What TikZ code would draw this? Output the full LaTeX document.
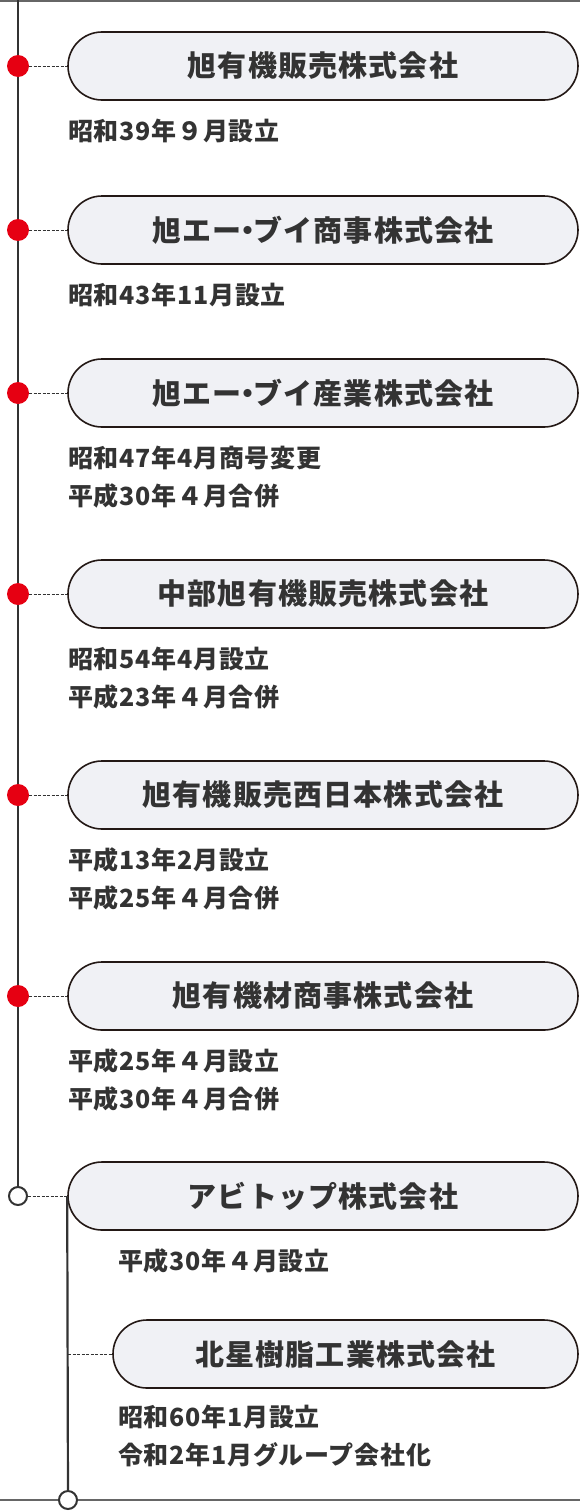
\documentclass[tikz,border=0pt]{standalone}
\usepackage{fontspec}
\newfontfamily\jp{Noto Sans CJK JP}
\usepackage{tikz}
\usetikzlibrary{shapes.misc}
\definecolor{pillfill}{HTML}{F0F1F5}
\definecolor{pilledge}{HTML}{231815}
\definecolor{dotred}{HTML}{E60012}
\definecolor{linegray}{HTML}{333333}
\definecolor{rulegray}{HTML}{666666}
\definecolor{txt}{HTML}{333333}
\newcommand{\nakaguro}{\hspace{-0.3em}・\hspace{-0.3em}}

\begin{document}
\begin{tikzpicture}[
  x=1pt, y=-1pt,
  pill/.style={draw=pilledge,line width=1.6pt,fill=pillfill,rounded rectangle,minimum height=68pt,inner sep=0pt,text=txt,font=\jp\bfseries\fontsize{29}{32}\selectfont\addfontfeature{LetterSpace=4}},
  note/.style={anchor=north west,inner sep=0pt,align=left,text=txt,font=\jp\bfseries\fontsize{25}{38}\selectfont\addfontfeature{LetterSpace=3}},
  dot/.style={circle,fill=dotred,minimum size=22pt,inner sep=0pt},
  hollow/.style={circle,draw=linegray,line width=2pt,fill=white,minimum size=18pt,inner sep=0pt},
  link/.style={dashed,dash pattern=on 3pt off 1.5pt,line width=0.6pt,linegray},
  trunk/.style={line width=2.2pt,linegray}
]
  \useasboundingbox (0,0) rectangle (580,1512);

  % rules top and bottom
  \draw[rulegray,line width=2pt] (0,1) -- (580,1);

  % companies
  \node[pill,minimum width=510pt] (p1) at (323,66) {旭有機販売株式会社};
  \node[pill,minimum width=510pt] (p2) at (323,230) {旭エー\nakaguro ブイ商事株式会社};
  \node[pill,minimum width=510pt] (p3) at (323,393) {旭エー\nakaguro ブイ産業株式会社};
  \node[pill,minimum width=510pt] (p4) at (323,594) {中部旭有機販売株式会社};
  \node[pill,minimum width=510pt] (p5) at (323,795) {旭有機販売西日本株式会社};
  \node[pill,minimum width=510pt] (p6) at (323,996) {旭有機材商事株式会社};
  \node[pill,minimum width=510pt] (p7) at (323,1196) {アビトップ株式会社};
  \node[pill,minimum width=465pt] (p8) at (345.5,1354) {北星樹脂工業株式会社};

  \node[note] (n1) at (68,119) {昭和39年９月設立};
  \node[note] (n2) at (68,283) {昭和43年11月設立};
  \node[note] (n3) at (68,446) {昭和47年4月商号変更\\平成30年４月合併};
  \node[note] (n4) at (68,647) {昭和54年4月設立\\平成23年４月合併};
  \node[note] (n5) at (68,847) {平成13年2月設立\\平成25年４月合併};
  \node[note] (n6) at (68,1048) {平成25年４月設立\\平成30年４月合併};
  \node[note] (n7) at (118,1248) {平成30年４月設立};
  \node[note] (n8) at (118,1405) {昭和60年1月設立\\令和2年1月グループ会社化};

  % timeline
  \coordinate (top) at (18,0);
  \node[dot] (d1) at (18,66) {};
  \node[dot] (d2) at (18,230) {};
  \node[dot] (d3) at (18,393) {};
  \node[dot] (d4) at (18,594) {};
  \node[dot] (d5) at (18,795) {};
  \node[dot] (d6) at (18,996) {};
  \node[hollow] (h7) at (18,1196) {};
  \coordinate (b8) at (68,1354);
  \coordinate (left) at (0,1500);
  \coordinate (right) at (580,1500);
  \draw[rulegray,line width=2pt] (left) -- (right);
  \node[hollow] (h8) at (68,1500) {};

  \draw[trunk] (top) -- (d1) -- (d2) -- (d3) -- (d4) -- (d5) -- (d6) -- (h7);
  \draw[trunk] (p7.west) -- (h8);

  \foreach \i in {1,...,6}
    \draw[link] (d\i) -- (p\i);
  \draw[link] (h7) -- (p7);
  \draw[link] (b8) -- (p8);
\end{tikzpicture}
\end{document}
